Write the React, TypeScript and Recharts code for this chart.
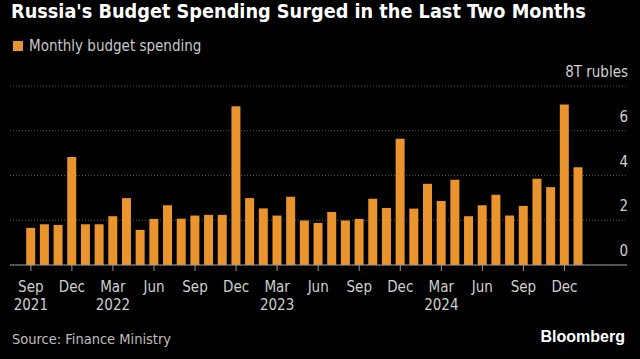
import { BarChart, Bar, XAxis, YAxis, CartesianGrid } from 'recharts';

const months = [
  'Sep 2021', 'Oct 2021', 'Nov 2021', 'Dec 2021',
  'Jan 2022', 'Feb 2022', 'Mar 2022', 'Apr 2022', 'May 2022', 'Jun 2022',
  'Jul 2022', 'Aug 2022', 'Sep 2022', 'Oct 2022', 'Nov 2022', 'Dec 2022',
  'Jan 2023', 'Feb 2023', 'Mar 2023', 'Apr 2023', 'May 2023', 'Jun 2023',
  'Jul 2023', 'Aug 2023', 'Sep 2023', 'Oct 2023', 'Nov 2023', 'Dec 2023',
  'Jan 2024', 'Feb 2024', 'Mar 2024', 'Apr 2024', 'May 2024', 'Jun 2024',
  'Jul 2024', 'Aug 2024', 'Sep 2024', 'Oct 2024', 'Nov 2024', 'Dec 2024',
  'Jan 2025',
];

// trillion rubles
const spending = [
  1.66, 1.82, 1.79, 4.83,
  1.82, 1.82, 2.18, 2.99, 1.57, 2.06,
  2.67, 2.07, 2.21, 2.24, 2.24, 7.10,
  2.99, 2.53, 2.21, 3.05, 1.99, 1.88,
  2.37, 1.99, 2.06, 2.96, 2.55, 5.64,
  2.52, 3.63, 2.86, 3.81, 2.18, 2.67,
  3.14, 2.21, 2.64, 3.85, 3.48, 7.17,
  4.37,
];

const yTicks = [0, 2, 4, 6, 8];
const yearShownAt = ['Sep 2021', 'Mar 2022', 'Mar 2023', 'Mar 2024'];

const data = months.map((m, i) => ({ month: m, value: spending[i] }));

const FONT = "'DejaVu Sans Condensed', 'DejaVu Sans', sans-serif";
const ORANGE = '#EA942E';

function MonthTick(props: any) {
  const { x, y, payload } = props;
  const [mon, year] = String(payload.value).split(' ');
  return (
    <text x={x} y={y} textAnchor="middle" fill="#cfcfcf" fontSize={15} fontFamily={FONT} style={{ fontStretch: 'condensed' }}>
      <tspan x={x} dy={19}>{mon}</tspan>
      {yearShownAt.includes(payload.value) && <tspan x={x} dy={18}>{year}</tspan>}
    </text>
  );
}

function ValueTick(props: any) {
  const { x, y, payload } = props;
  return (
    <text x={x} y={y - 9} textAnchor="end" fill="#cfcfcf" fontSize={15} fontFamily={FONT} style={{ fontStretch: 'condensed' }}>
      {payload.value === 8 ? '8T rubles' : payload.value}
    </text>
  );
}

export default function App() {
  return (
    <div style={{ position: 'relative', width: 640, height: 359, background: '#000', fontFamily: FONT, fontStretch: 'condensed', overflow: 'hidden' }}>
      <style>{'body{margin:0;background:#000}'}</style>
      <div style={{ position: 'absolute', left: 11, top: 0, color: '#fff', fontWeight: 700, fontSize: 19.7, whiteSpace: 'nowrap' }}>
        Russia's Budget Spending Surged in the Last Two Months
      </div>
      <div style={{ position: 'absolute', left: 13, top: 37, display: 'flex', alignItems: 'center', color: '#c8c8c8', fontSize: 15 }}>
        <span style={{ display: 'inline-block', width: 10, height: 10, background: ORANGE, marginRight: 6 }} />
        Monthly budget spending
      </div>

      <div style={{ position: 'absolute', left: 0, top: 0 }}>
        <BarChart width={640} height={359} data={data} margin={{ top: 86, right: 0, bottom: 64, left: 10 }} barCategoryGap="16%">
          <CartesianGrid vertical={false} stroke="#555" strokeDasharray="1 2" />
          <XAxis
            dataKey="month"
            interval={2}
            height={30}
            padding={{ left: 14, right: 42 }}
            stroke="#9a9a9a"
            tickSize={6}
            tickMargin={2}
            tick={<MonthTick />}
          />
          <YAxis
            orientation="right"
            domain={[0, 8]}
            ticks={yTicks}
            width={13}
            axisLine={false}
            tickLine={false}
            tickSize={0}
            tickMargin={1}
            tick={<ValueTick />}
          />
          <Bar dataKey="value" fill={ORANGE} isAnimationActive={false} />
        </BarChart>
      </div>

      <div style={{ position: 'absolute', left: 12, top: 331, color: '#bdbdbd', fontSize: 14.5 }}>
        Source: Finance Ministry
      </div>
      <div style={{ position: 'absolute', right: 15, top: 328, color: '#fff', fontWeight: 700, fontSize: 16, fontFamily: "'Liberation Sans', Arial, sans-serif" }}>
        Bloomberg
      </div>
    </div>
  );
}
